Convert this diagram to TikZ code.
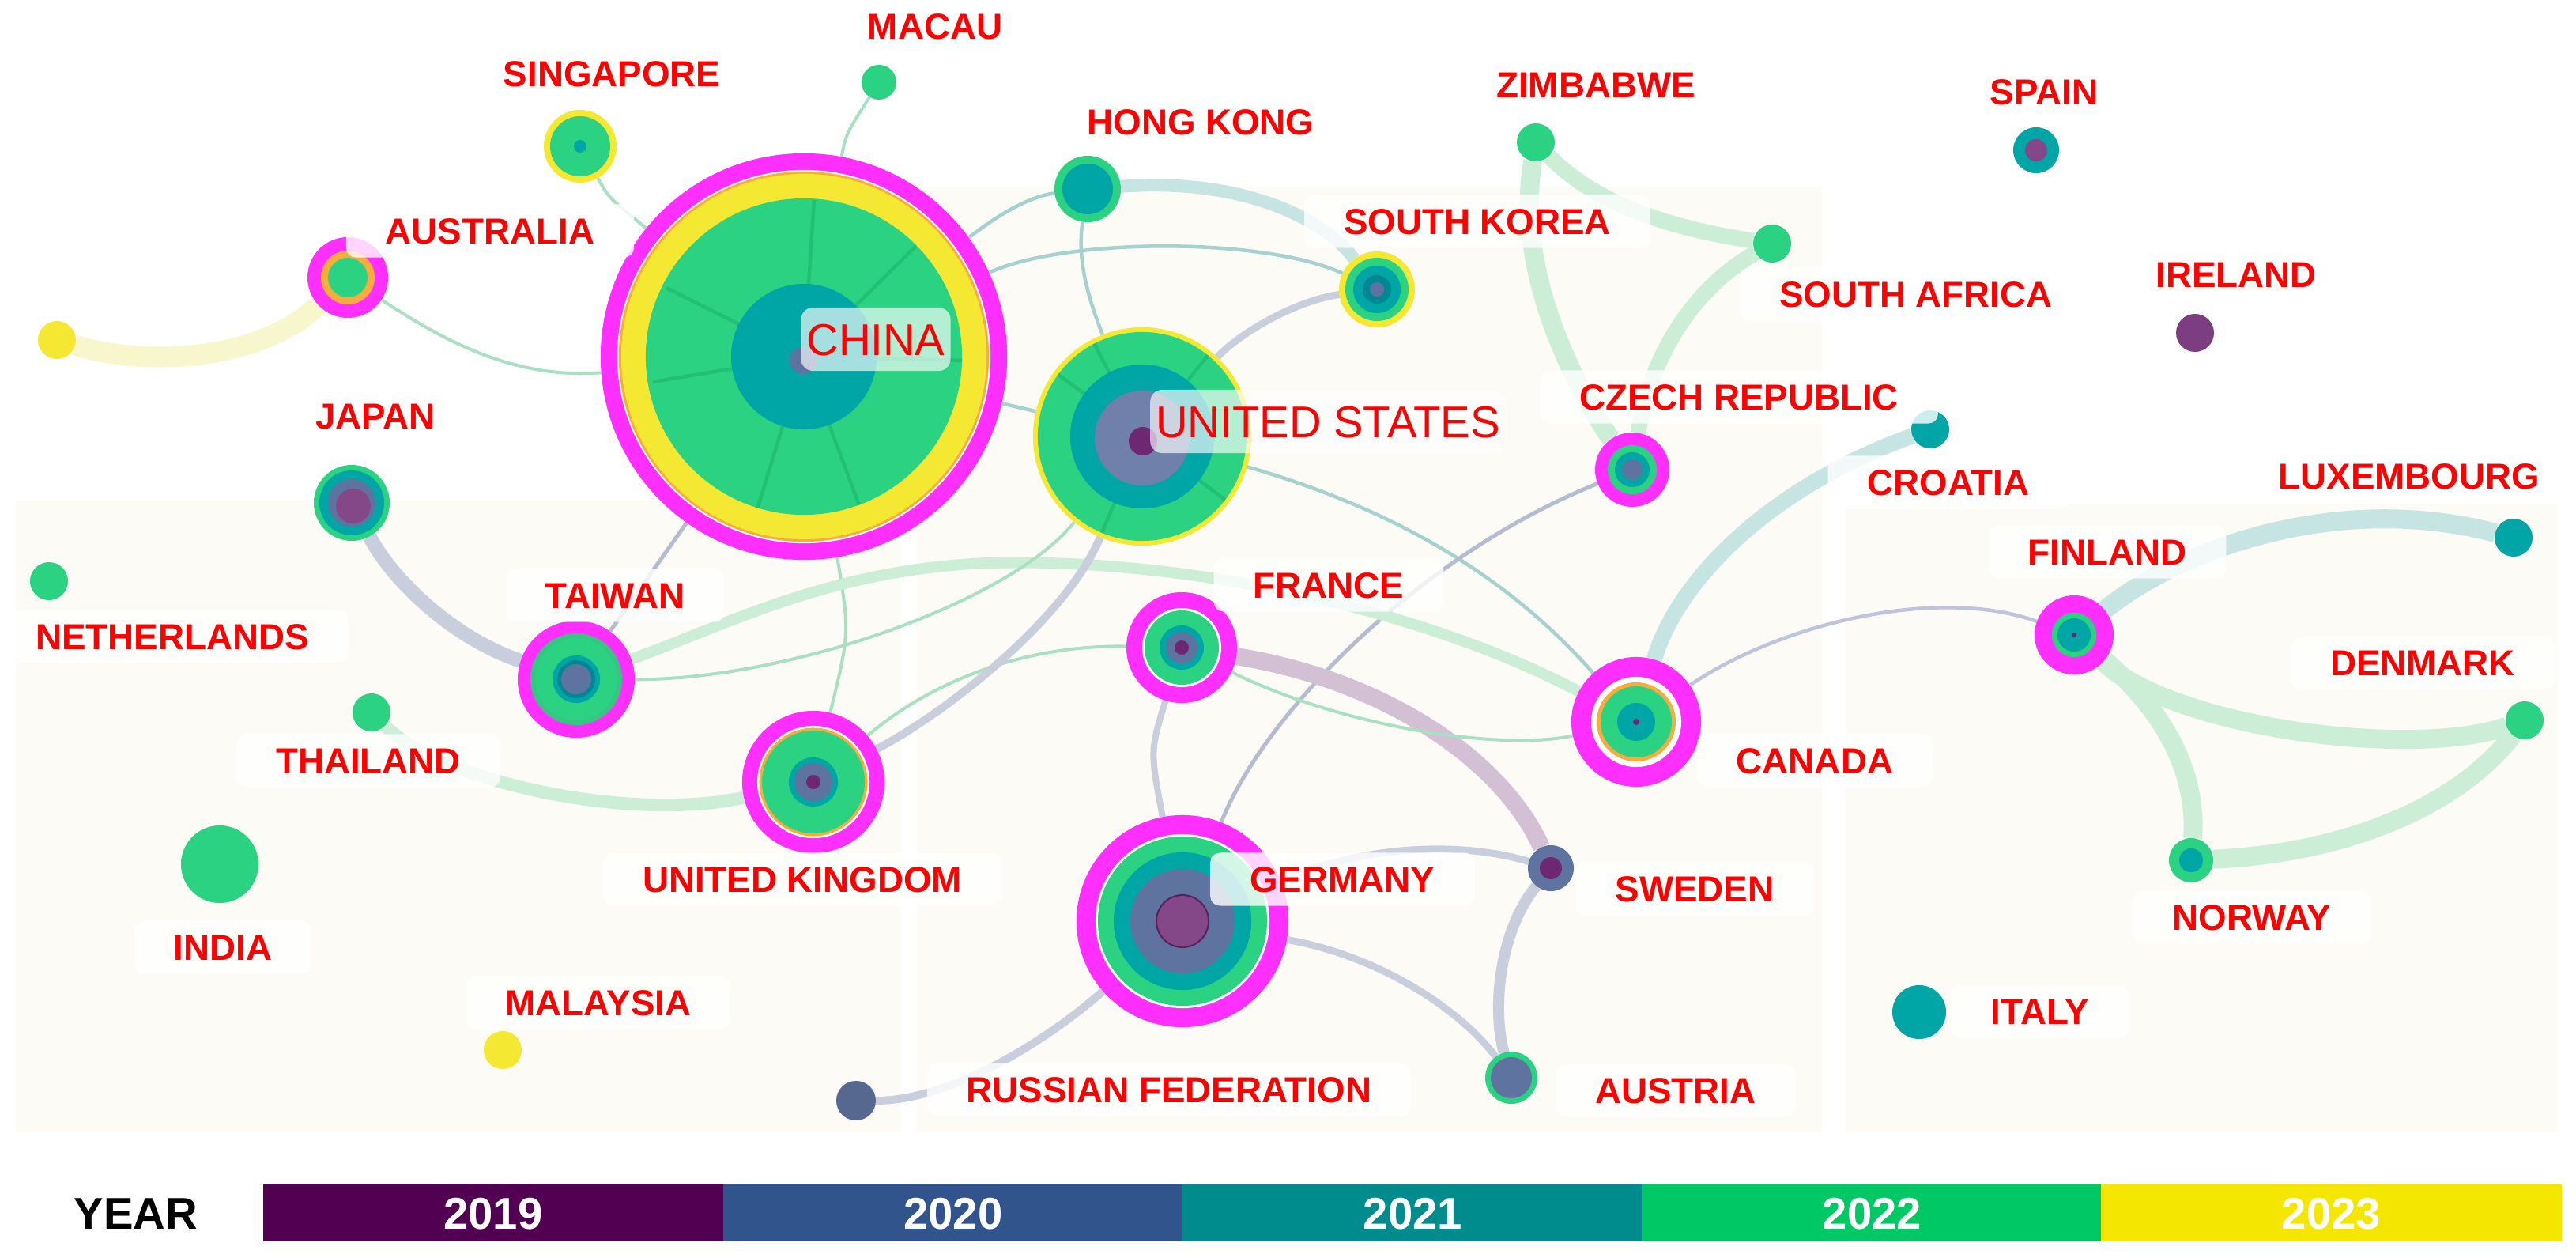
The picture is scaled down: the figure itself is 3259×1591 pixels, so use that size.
\documentclass[tikz,border=0pt]{standalone}
\usepackage{fontspec}
\setmainfont{Liberation Sans}
\pgfdeclarelayer{bglayer}
\pgfdeclarelayer{edgelayer}
\pgfsetlayers{bglayer,edgelayer,main}
\definecolor{cmag}{RGB}{255,48,255}
\definecolor{cyel}{RGB}{245,232,50}
\definecolor{corange}{RGB}{248,172,60}
\definecolor{cgreen}{RGB}{42,210,130}
\definecolor{cteal}{RGB}{0,165,165}
\definecolor{cdteal}{RGB}{0,135,150}
\definecolor{cslate}{RGB}{95,115,160}
\definecolor{cpurp}{RGB}{110,40,115}
\definecolor{labred}{RGB}{255,0,0}
\definecolor{cream}{RGB}{253,251,246}
\definecolor{egreen}{RGB}{204,238,215}
\definecolor{tgreen}{RGB}{170,224,194}
\definecolor{eteal}{RGB}{198,228,226}
\definecolor{tteal}{RGB}{165,210,207}
\definecolor{eslate}{RGB}{200,206,220}
\definecolor{tslate}{RGB}{180,188,208}
\definecolor{epurp}{RGB}{212,192,212}
\definecolor{eyel}{RGB}{248,246,205}
\definecolor{elav}{RGB}{190,195,222}
\definecolor{spoke}{RGB}{30,185,112}
\definecolor{c19}{RGB}{82,0,82}
\definecolor{c20}{RGB}{50,84,140}
\definecolor{c21}{RGB}{0,140,140}
\definecolor{c22}{RGB}{0,200,100}
\definecolor{c23}{RGB}{245,230,0}
\newcommand\Lyr[3]{\fill[#2] (#1) circle[radius=#3];}
\tikzset{
  cnode/.style={circle, draw=none, inner sep=0pt, outer sep=0pt},
  lab/.style={font=\fontsize{13}{15}\selectfont\bfseries, text=labred, fill=white,
    fill opacity=0.8, text opacity=1, rounded corners=0.12cm, inner xsep=0.5cm,
    inner ysep=0.17cm, text height=0.33cm, text depth=0cm},
  biglab/.style={font=\fontsize{16}{19}\selectfont, text=labred, fill=white,
    fill opacity=0.65, text opacity=1, rounded corners=0.15cm, inner xsep=0.07cm,
    inner ysep=0.2cm, text height=0.40cm, text depth=0cm},
  yr/.style={font=\fontsize{16}{19}\selectfont\bfseries, text=white, inner sep=0pt,
    minimum width=5.82cm, minimum height=0.72cm, text height=0.40cm, text depth=0cm},
  kG/.style={draw=egreen, line width=0.24cm},
  kT/.style={draw=eteal, line width=0.18cm},
  kS/.style={draw=eslate, line width=0.18cm},
  kP/.style={draw=epurp, line width=0.22cm},
  kY/.style={draw=eyel, line width=0.26cm},
  mS/.style={draw=eslate, line width=0.09cm},
  tG/.style={draw=tgreen, line width=0.04cm},
  tT/.style={draw=tteal, line width=0.045cm},
  tS/.style={draw=tslate, line width=0.05cm},
  tL/.style={draw=elav, line width=0.045cm},
  sp/.style={draw=spoke, line width=0.045cm, opacity=0.7}
}
\begin{document}
\begin{tikzpicture}[x=0.01cm, y=-0.01cm]
\useasboundingbox (0,0) rectangle (3259,1591);
\begin{pgfonlayer}{bglayer}
  \fill[white] (0,0) rectangle (3259,1591);
  \fill[cream] (20,633) rectangle (1140,1432);
  \fill[cream] (1160,236) rectangle (2305,1432);
  \fill[cream] (2335,637) rectangle (3235,1432);
\end{pgfonlayer}

% ---------------- nodes ----------------
% China
\node[cnode, fill=cmag, minimum size=5.14cm] (china) at (1017,451) {};
\Lyr{china.center}{white}{2.36cm}
\Lyr{china.center}{corange}{2.34cm}
\Lyr{china.center}{cyel}{2.31cm}
\Lyr{china.center}{cgreen}{2.0cm}
\begin{scope}
  \clip (china.center) circle[radius=2.0cm];
  \draw[sp] (china.center) -- (1030,253);
  \draw[sp] (china.center) -- (1159,311);
  \draw[sp] (china.center) -- (1217,456);
  \draw[sp] (china.center) -- (1090,647);
  \draw[sp] (china.center) -- (958,644);
  \draw[sp] (china.center) -- (826,483);
  \draw[sp] (china.center) -- (843,364);
\end{scope}
\Lyr{china.center}{cteal}{0.92cm}
\Lyr{1016,456}{cslate}{0.17cm}
% United States
\node[cnode, fill=cyel, minimum size=2.76cm] (us) at (1445,552) {};
\Lyr{us.center}{cgreen}{1.32cm}
\begin{scope}
  \clip (us.center) circle[radius=1.32cm];
  \draw[sp] (us.center) -- (1331,468);
  \draw[sp] (us.center) -- (1380,426);
  \draw[sp] (us.center) -- (1389,686);
  \draw[sp] (us.center) -- (1532,445);
  \draw[sp] (us.center) -- (1560,640);
\end{scope}
\Lyr{us.center}{cteal}{0.91cm}
\Lyr{1445,554}{cslate!90!white}{0.60cm}
\Lyr{1446,558}{cpurp}{0.18cm}
% Hong Kong
\node[cnode, fill=cgreen, minimum size=0.84cm] (hk) at (1376,239) {};
\Lyr{hk.center}{cteal}{0.32cm}
% Singapore
\node[cnode, fill=cyel, minimum size=0.92cm] (sing) at (734,185) {};
\Lyr{sing.center}{cgreen}{0.38cm}
\Lyr{sing.center}{cteal}{0.08cm}
% Macau
\node[cnode, fill=cgreen, minimum size=0.44cm] (macau) at (1112,104) {};
% Australia
\node[cnode, fill=cmag, minimum size=1.02cm] (aus) at (440,351) {};
\Lyr{aus.center}{corange}{0.34cm}
\Lyr{aus.center}{cgreen}{0.25cm}
% Unnamed yellow node
\node[cnode, fill=cyel, minimum size=0.48cm] (yel) at (72,430) {};
% Japan
\node[cnode, fill=cgreen, minimum size=0.96cm] (japan) at (445,636) {};
\Lyr{japan.center}{cteal}{0.41cm}
\Lyr{japan.center}{cslate}{0.30cm}
\Lyr{447,640}{cpurp!85!white}{0.22cm}
% Netherlands
\node[cnode, fill=cgreen, minimum size=0.48cm] (neth) at (62,735) {};
% Taiwan
\node[cnode, fill=cmag, minimum size=1.48cm] (taiwan) at (729,859) {};
\Lyr{taiwan.center}{cgreen!85!gray}{0.58cm}
\Lyr{taiwan.center}{cgreen}{0.52cm}
\Lyr{taiwan.center}{cteal}{0.30cm}
\Lyr{taiwan.center}{cdteal}{0.24cm}
\Lyr{taiwan.center}{cslate}{0.19cm}
% Thailand, India, Malaysia, Russia
\node[cnode, fill=cgreen, minimum size=0.48cm] (thai) at (470,901) {};
\node[cnode, fill=cgreen, minimum size=0.98cm] (india) at (278,1093) {};
\node[cnode, fill=cyel, minimum size=0.48cm] (malay) at (636,1328) {};
\node[cnode, fill=cslate!90!black, minimum size=0.50cm] (russia) at (1083,1392) {};
% United Kingdom
\node[cnode, fill=cmag, minimum size=1.80cm] (uk) at (1029,989) {};
\Lyr{uk.center}{white}{0.71cm}
\Lyr{uk.center}{corange}{0.685cm}
\Lyr{uk.center}{cgreen}{0.65cm}
\Lyr{uk.center}{cteal}{0.31cm}
\Lyr{uk.center}{cslate}{0.24cm}
\Lyr{uk.center}{cpurp}{0.09cm}
% France
\node[cnode, fill=cmag, minimum size=1.40cm] (france) at (1495,819) {};
\Lyr{france.center}{white}{0.50cm}
\Lyr{france.center}{cgreen}{0.47cm}
\Lyr{france.center}{cteal}{0.28cm}
\Lyr{france.center}{cslate}{0.20cm}
\Lyr{france.center}{cpurp}{0.09cm}
% Germany
\node[cnode, fill=cmag, minimum size=2.68cm] (germany) at (1496,1165) {};
\Lyr{germany.center}{white}{1.10cm}
\Lyr{germany.center}{cgreen}{1.07cm}
\Lyr{germany.center}{cteal}{0.87cm}
\Lyr{germany.center}{cslate}{0.66cm}
\fill[cpurp!85!white, draw=cpurp!80!black, line width=0.02cm] (germany.center) circle[radius=0.33cm];
% Austria, Sweden
\node[cnode, fill=cgreen, minimum size=0.66cm] (austria) at (1912,1363) {};
\Lyr{austria.center}{cslate}{0.26cm}
\node[cnode, fill=cslate, minimum size=0.58cm] (sweden) at (1962,1098) {};
\Lyr{sweden.center}{cpurp}{0.14cm}
% Canada
\node[cnode, fill=cmag, minimum size=1.64cm] (canada) at (2070,913) {};
\Lyr{canada.center}{white}{0.57cm}
\Lyr{canada.center}{corange}{0.50cm}
\Lyr{canada.center}{cgreen}{0.45cm}
\Lyr{canada.center}{cteal}{0.24cm}
\Lyr{canada.center}{cpurp}{0.04cm}
% Czech Republic
\node[cnode, fill=cmag, minimum size=0.94cm] (czech) at (2065,594) {};
\Lyr{czech.center}{cgreen}{0.31cm}
\Lyr{czech.center}{cteal}{0.22cm}
\Lyr{czech.center}{cslate}{0.13cm}
% South Korea
\node[cnode, fill=cyel, minimum size=0.96cm] (sk) at (1742,366) {};
\Lyr{sk.center}{cgreen}{0.40cm}
\Lyr{sk.center}{cteal}{0.30cm}
\Lyr{sk.center}{cdteal}{0.18cm}
\Lyr{sk.center}{cslate}{0.09cm}
% small nodes on the right
\node[cnode, fill=cgreen, minimum size=0.48cm] (zim) at (1943,180) {};
\node[cnode, fill=cgreen, minimum size=0.48cm] (sa) at (2242,308) {};
\node[cnode, fill=cteal, minimum size=0.48cm] (croatia) at (2442,543) {};
\node[cnode, fill=cteal, minimum size=0.58cm] (spain) at (2576,190) {};
\Lyr{spain.center}{cpurp!85!white}{0.14cm}
\node[cnode, fill=cpurp!90!white, minimum size=0.48cm] (ireland) at (2777,421) {};
\node[cnode, fill=cteal, minimum size=0.48cm] (lux) at (3180,680) {};
\node[cnode, fill=cmag, minimum size=1.00cm] (finland) at (2624,803) {};
\Lyr{finland.center}{cgreen}{0.28cm}
\Lyr{finland.center}{cteal}{0.21cm}
\Lyr{finland.center}{cpurp}{0.03cm}
\node[cnode, fill=cgreen, minimum size=0.48cm] (denmark) at (3194,911) {};
\node[cnode, fill=cgreen, minimum size=0.56cm] (norway) at (2772,1088) {};
\Lyr{norway.center}{cteal}{0.15cm}
\node[cnode, fill=cteal, minimum size=0.68cm] (italy) at (2428,1280) {};

% ---------------- edges ----------------
\begin{pgfonlayer}{edgelayer}
\draw[kY] (yel) .. controls (190,465) and (330,455) .. (aus);
\draw[tG] (aus) .. controls (560,430) and (650,480) .. (china);
\draw[tG] (sing) .. controls (770,250) .. (china);
\draw[tG] (macau) .. controls (1070,170) .. (china);
\draw[tT] (hk) .. controls (1290,250) and (1240,290) .. (china);
\draw[kT, line width=0.16cm] (hk) .. controls (1560,225) and (1670,270) .. (sk);
\draw[tT] (china) .. controls (1350,300) and (1600,300) .. (sk);
\draw[mS] (us) .. controls (1570,420) and (1640,380) .. (sk);
\draw[tT] (hk) .. controls (1362,330) and (1378,380) .. (us);
\draw[tT] (china) -- (us);
\draw[tT] (us) .. controls (1750,640) and (1900,720) .. (canada);
\draw[tS] (germany) .. controls (1600,900) and (1800,700) .. (czech);
\draw[tS] (taiwan) -- (china);
\draw[tG] (uk) .. controls (1075,800) .. (china);
\draw[kG, line width=0.14cm] (taiwan) .. controls (920,790) and (1050,720) .. (1250,712)
   .. controls (1500,705) and (1800,770) .. (canada);
\draw[tG] (taiwan) .. controls (1000,860) and (1280,760) .. (us);
\draw[tG] (uk) .. controls (1180,860) and (1300,815) .. (france);
\draw[mS, line width=0.10cm] (uk) .. controls (1200,900) and (1350,780) .. (us);
\draw[kS] (japan) .. controls (500,740) and (580,810) .. (taiwan);
\draw[kG, line width=0.16cm] (thai) .. controls (560,990) and (800,1040) .. (uk);
\draw[kP] (france) .. controls (1750,860) and (1900,960) .. (sweden);
\draw[mS, line width=0.08cm] (france) .. controls (1455,950) .. (germany);
\draw[tG] (france) .. controls (1700,920) and (1900,950) .. (canada);
\draw[mS] (germany) .. controls (1750,1060) and (1870,1070) .. (sweden);
\draw[mS] (germany) .. controls (1750,1210) and (1850,1280) .. (austria);
\draw[mS, line width=0.14cm] (sweden) .. controls (1895,1180) and (1888,1280) .. (austria);
\draw[mS, line width=0.10cm] (germany) .. controls (1320,1320) and (1200,1392) .. (russia);
\draw[kT, line width=0.20cm] (canada) .. controls (2120,740) and (2230,620) .. (croatia);
\draw[tL] (canada) .. controls (2250,790) and (2450,740) .. (finland);
\draw[kT, line width=0.24cm] (finland) .. controls (2750,700) and (2950,620) .. (lux);
\draw[kG] (finland) .. controls (2750,920) and (3050,960) .. (denmark);
\draw[kG] (finland) .. controls (2740,900) and (2780,980) .. (norway);
\draw[kG] (norway) .. controls (2950,1080) and (3100,1030) .. (denmark);
\draw[kG] (zim) .. controls (1915,350) and (2000,500) .. (czech);
\draw[kG, line width=0.20cm] (zim) .. controls (2020,260) and (2120,290) .. (sa);
\draw[kG, line width=0.20cm] (sa) .. controls (2150,360) and (2090,440) .. (czech);
\end{pgfonlayer}

% ---------------- labels ----------------
\node[lab] (lmacau) at (1183,33) {MACAU};
\node[lab] (lsing) at (774,93) {SINGAPORE};
\node[lab] (lhk) at (1519,154) {HONG KONG};
\node[lab] (lzim) at (2019,107) {ZIMBABWE};
\node[lab] (lspain) at (2586,116) {SPAIN};
\node[lab] (laus) at (620,292) {AUSTRALIA};
\node[lab] (lsk) at (1869,280) {SOUTH KOREA};
\node[lab] (lsa) at (2424,372) {SOUTH AFRICA};
\node[lab] (lire) at (2829,347) {IRELAND};
\node[lab] (ljapan) at (475,526) {JAPAN};
\node[lab] (lczech) at (2200,502) {CZECH REPUBLIC};
\node[lab] (lcro) at (2465,610) {CROATIA};
\node[lab] (llux) at (3048,602) {LUXEMBOURG};
\node[lab] (lfin) at (2666,698) {FINLAND};
\node[lab] (ltw) at (778,753) {TAIWAN};
\node[lab] (lneth) at (218,805) {NETHERLANDS};
\node[lab] (lfr) at (1681,740) {FRANCE};
\node[lab] (lden) at (3065,838) {DENMARK};
\node[lab] (lthai) at (466,962) {THAILAND};
\node[lab] (lcan) at (2296,962) {CANADA};
\node[lab] (luk) at (1015,1112) {UNITED KINGDOM};
\node[lab] (lger) at (1698,1112) {GERMANY};
\node[lab] (lswe) at (2144,1124) {SWEDEN};
\node[lab] (lind) at (282,1198) {INDIA};
\node[lab] (lmal) at (757,1268) {MALAYSIA};
\node[lab] (lrus) at (1479,1378) {RUSSIAN FEDERATION};
\node[lab] (laut) at (2120,1379) {AUSTRIA};
\node[lab] (lita) at (2581,1279) {ITALY};
\node[lab] (lnor) at (2849,1160) {NORWAY};
\node[biglab] (lchina) at (1108,429) {CHINA};
\node[biglab] (lus) at (1680,533) {UNITED STATES};

% ---------------- legend ----------------
\node[font=\fontsize{16}{19}\selectfont\bfseries, text height=0.40cm, text depth=0cm] (year) at (172,1534) {YEAR};
\node[yr, fill=c19] (y19) at (624,1534) {2019};
\node[yr, fill=c20] (y20) at (1206,1534) {2020};
\node[yr, fill=c21] (y21) at (1787.5,1534) {2021};
\node[yr, fill=c22] (y22) at (2368.5,1534) {2022};
\node[yr, fill=c23] (y23) at (2949.5,1534) {2023};
\end{tikzpicture}
\end{document}
